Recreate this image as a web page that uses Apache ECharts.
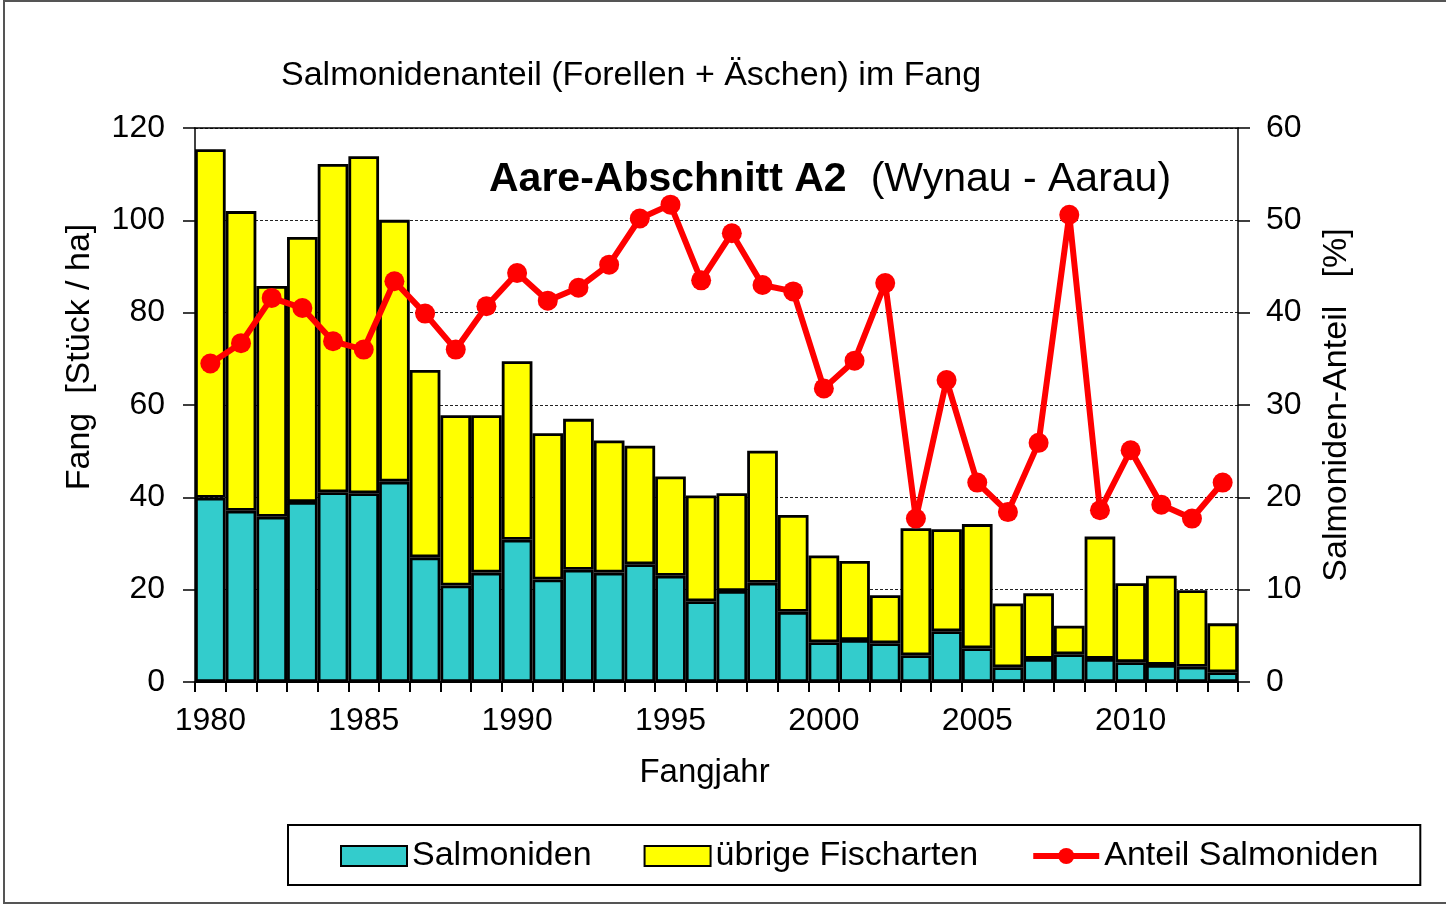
<!DOCTYPE html>
<html>
<head>
<meta charset="utf-8">
<title>Salmonidenanteil im Fang</title>
<script src="https://cdn.jsdelivr.net/npm/echarts@6/dist/echarts.min.js"></script>
<style>
  html, body { margin: 0; padding: 0; background: #fff; }
  #chart { width: 1446px; height: 904px; }
</style>
</head>
<body>
<div id="chart"></div>
<script>
// Fangjahre
const jahre = ['1980', '1981', '1982', '1983', '1984', '1985', '1986', '1987', '1988', '1989',
  '1990', '1991', '1992', '1993', '1994', '1995', '1996', '1997', '1998', '1999',
  '2000', '2001', '2002', '2003', '2004', '2005', '2006', '2007', '2008', '2009',
  '2010', '2011', '2012', '2013']

// Fang Salmoniden [Stück / ha]
const salmoniden = [39.9, 37.1, 35.8, 39.0, 41.1, 40.9, 43.4, 27.0, 20.9, 23.7,
  30.8, 22.2, 24.3, 23.7, 25.5, 23.0, 17.5, 19.7, 21.5, 15.2,
  8.6, 9.1, 8.4, 5.8, 11.0, 7.3, 3.2, 5.0, 6.0, 5.0,
  4.3, 3.7, 3.3, 2.1]

// Fang übrige Fischarten [Stück / ha]
const uebrige = [75.5, 64.9, 50.0, 57.4, 71.1, 73.0, 56.7, 40.6, 36.9, 34.1,
  38.7, 31.7, 32.7, 28.6, 25.7, 21.5, 22.9, 21.2, 28.6, 21.0,
  18.8, 17.1, 10.4, 27.5, 22.1, 26.9, 13.8, 14.2, 6.2, 26.5,
  17.1, 19.3, 16.6, 10.6]

// Anteil Salmoniden [%]
const anteil = [34.5, 36.7, 41.6, 40.5, 36.9, 36.0, 43.4, 39.9, 36.0, 40.7,
  44.3, 41.3, 42.7, 45.2, 50.2, 51.7, 43.5, 48.6, 43.0, 42.3,
  31.8, 34.8, 43.2, 17.7, 32.7, 21.6, 18.4, 25.9, 50.6, 18.6,
  25.1, 19.2, 17.7, 21.6]

const font = '"Liberation Sans", Arial, sans-serif'

let myChart = echarts.init(document.getElementById('chart'))

let option = {
  backgroundColor: '#fff',
  animation: false,
  textStyle: { fontFamily: font, color: '#000' },
  graphic: [
    {
      type: 'rect',
      shape: { x: 4, y: 1, width: 1460, height: 902 },
      style: { fill: 'none', stroke: '#555', lineWidth: 2 },
      silent: true
    }
  ],
  title: [
    {
      text: 'Salmonidenanteil (Forellen + Äschen) im Fang',
      left: 276,
      top: 54,
      textStyle: { fontFamily: font, fontSize: 34, fontWeight: 'normal', color: '#000' }
    },
    {
      text: '{b|Aare-Abschnitt A2}{n|(Wynau - Aarau)}',
      left: 484,
      top: 154,
      textStyle: {
        rich: {
          b: { fontFamily: font, fontSize: 41, fontWeight: 'bold', color: '#000' },
          n: { fontFamily: font, fontSize: 41, fontWeight: 'normal', color: '#000', padding: [0, 0, 0, 24] }
        }
      }
    }
  ],
  legend: {
    left: 288,
    top: 825,
    orient: 'horizontal',
    padding: [14, 42, 12, 52],
    itemGap: 52,
    itemWidth: 66,
    itemHeight: 20,
    borderColor: '#000',
    borderWidth: 2,
    textStyle: { fontFamily: font, fontSize: 34, color: '#000' },
    data: [
      { name: 'Salmoniden', icon: 'rect' },
      { name: 'übrige Fischarten', icon: 'rect' },
      { name: 'Anteil Salmoniden', lineStyle: { width: 6 } }
    ]
  },
  grid: {
    left: 195,
    right: 208,
    top: 128,
    bottom: 222,
    containLabel: false
  },
  xAxis: [
    {
      type: 'category',
      data: jahre,
      boundaryGap: true,
      name: 'Fangjahr',
      nameLocation: 'middle',
      nameGap: 74,
      nameTextStyle: { fontFamily: font, fontSize: 33, color: '#000', padding: [0, 24, 0, 0] },
      axisLine: { lineStyle: { color: '#000', width: 2 } },
      axisTick: { show: true, interval: 0, length: 10, lineStyle: { color: '#000', width: 2 } },
      axisLabel: { interval: 4, margin: 23, fontFamily: font, fontSize: 32, color: '#000' },
      splitLine: { show: false }
    },
    {
      type: 'category',
      data: jahre,
      position: 'top',
      axisLine: { onZero: false, lineStyle: { color: '#000', width: 1.5 } },
      axisTick: { show: false },
      axisLabel: { show: false }
    }
  ],
  yAxis: [
    {
      type: 'value',
      min: 0,
      max: 120,
      interval: 20,
      name: 'Fang  [Stück / ha]',
      nameLocation: 'middle',
      nameRotate: 90,
      nameGap: 98,
      nameTextStyle: { fontFamily: font, fontSize: 34, color: '#000', padding: [0, 0, 0, 96] },
      axisLine: { show: true, lineStyle: { color: '#000', width: 1.5 } },
      axisTick: { show: true, length: 12, lineStyle: { color: '#000', width: 1.5 } },
      axisLabel: { margin: 30, fontFamily: font, fontSize: 32, color: '#000' },
      splitLine: { show: true, lineStyle: { color: '#222', width: 1, type: [3, 2] } }
    },
    {
      type: 'value',
      min: 0,
      max: 60,
      interval: 10,
      position: 'right',
      name: 'Salmoniden-Anteil   [%]',
      nameLocation: 'middle',
      nameRotate: 90,
      nameGap: 82,
      nameTextStyle: { fontFamily: font, fontSize: 34, color: '#000' },
      axisLine: { show: true, lineStyle: { color: '#000', width: 1.5 } },
      axisTick: { show: true, length: 12, lineStyle: { color: '#000', width: 1.5 } },
      axisLabel: { margin: 28, fontFamily: font, fontSize: 32, color: '#000' },
      splitLine: { show: false }
    }
  ],
  series: [
    {
      name: 'Salmoniden',
      type: 'bar',
      stack: 'fang',
      barCategoryGap: '0%',
      itemStyle: { color: '#33CCCC', borderColor: '#000', borderWidth: 2.8 },
      data: salmoniden
    },
    {
      name: 'übrige Fischarten',
      type: 'bar',
      stack: 'fang',
      barCategoryGap: '0%',
      itemStyle: { color: '#FFFF00', borderColor: '#000', borderWidth: 2.8 },
      data: uebrige
    },
    {
      name: 'Anteil Salmoniden',
      type: 'line',
      yAxisIndex: 1,
      symbol: 'circle',
      symbolSize: 20,
      z: 5,
      lineStyle: { color: '#FF0000', width: 6 },
      itemStyle: { color: '#FF0000' },
      data: anteil
    }
  ]
}

myChart.setOption(option)
</script>
</body>
</html>
